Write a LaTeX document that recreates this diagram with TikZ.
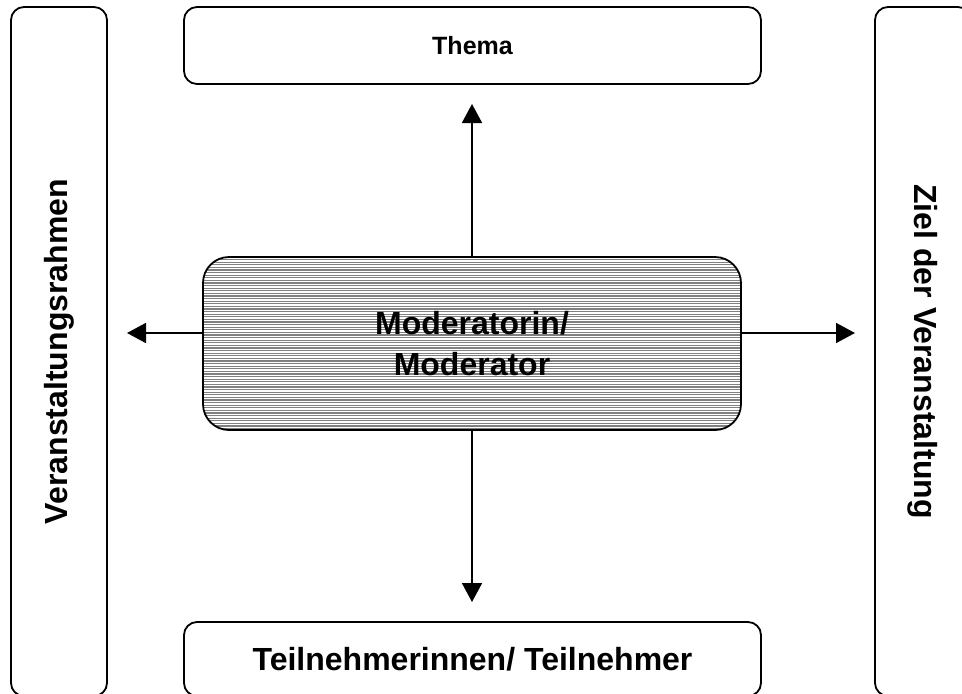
\documentclass[tikz,border=0pt]{standalone}
\usepackage{fontspec}
\setmainfont{Liberation Sans}
\usetikzlibrary{arrows.meta}
\begin{document}
\begin{tikzpicture}[x=1pt,y=-1pt,line join=round,
  kasten/.style={draw,line width=1.8pt,rounded corners=13pt,inner sep=0pt,
    font=\bfseries\fontsize{32}{41}\selectfont},
  pfeil/.style={line width=1.8pt,-{Triangle[length=19pt,width=20pt]}}]
\useasboundingbox (0,0) rectangle (962,694);
\clip (0,0) rectangle (962,694);
\node[kasten,rotate=90,minimum width=689pt,minimum height=96pt] (rahmen) at (59,351.5) {Veranstaltungsrahmen};
\node[kasten,rotate=-90,minimum width=689pt,minimum height=96pt] (ziel) at (923,351.5) {Ziel der Veranstaltung};
\node[kasten,minimum width=577pt,minimum height=77pt,font=\bfseries\fontsize{25}{30}\selectfont] (thema) at (472.5,45.5) {Thema};
\node[kasten,minimum width=577pt,minimum height=74pt] (tn) at (472.5,659) {Teilnehmerinnen/ Teilnehmer};
% schraffierter Kasten in der Mitte
\node[kasten,rounded corners=26pt,minimum width=538pt,minimum height=173pt,align=center,
  path picture={\foreach \i in {0,2.6,...,180}
    \draw[black!50,line width=1.1pt] ([yshift=-\i pt]path picture bounding box.north west)
      -- ([yshift=-\i pt]path picture bounding box.north east);}] (mod) at (472,343.5) {Moderatorin/\\Moderator};
\coordinate (ob) at (472,104);
\coordinate (un) at (472,602);
\coordinate (li) at (127,333);
\coordinate (re) at (855,333);
\draw[pfeil] (mod.north) -- (ob);
\draw[pfeil] (mod.south) -- (un);
\draw[pfeil] (li -| mod.west) -- (li);
\draw[pfeil] (re -| mod.east) -- (re);
\end{tikzpicture}
\end{document}
